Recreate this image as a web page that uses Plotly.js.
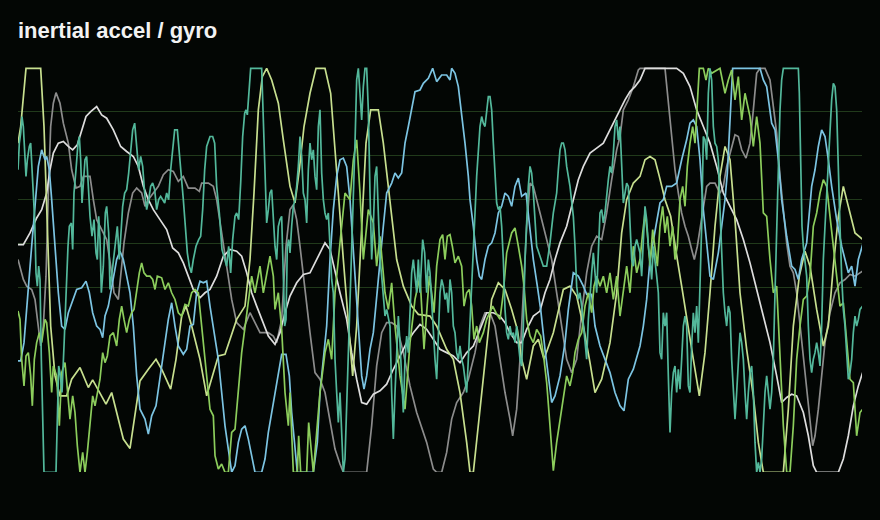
<!DOCTYPE html>
<html>
<head>
<meta charset="utf-8">
<script src="https://cdn.plot.ly/plotly-3.0.1.min.js"></script>
<style>
  html, body { margin: 0; padding: 0; background: #030604; }
</style>
</head>
<body>
<div id="chart" style="width:880px;height:520px"></div>
<script>
// samples are [t (ms), raw sensor counts]
const accelX = [[0,-221],[8,-221],[18,-166],[31,-16],[41,124],[51,244],[61,364],[71,414],[81,384],[86,394],[94,354],[101,264],[111,124],[121,-16],[131,-116],[141,-126],[151,-76],[164,-36],[176,-6],[191,-1],[204,19],[214,-16],[224,-76],[236,-116],[246,-126],[254,-151],[261,-86],[271,-56],[286,34],[296,84],[306,109],[316,84],[326,34],[336,-16],[346,-116],[356,-266],[366,-366],[381,-396],[391,-441],[401,-386],[414,-356],[426,-266],[441,-166],[451,-96],[461,-46],[471,-116],[481,-176],[496,-201],[506,-186],[516,-116],[526,-111],[536,-16],[546,19],[556,14],[566,19],[576,-56],[591,-146],[601,-216],[611,-316],[621,-416],[631,-486],[641,-556],[651,-536],[661,-466],[671,-426],[681,-416],[691,-456],[701,-506],[711,-556],[731,-556],[741,-516],[751,-436],[761,-376],[771,-316],[781,-266],[791,-201],[804,-201],[814,-266],[821,-376],[831,-486],[838,-556],[886,-556],[898,-466],[906,-316],[916,-216],[926,-116],[936,84],[946,234],[956,334],[966,384],[976,389],[986,364],[996,264],[1004,134],[1011,34],[1021,-116],[1031,-266],[1038,-306],[1046,-266],[1056,-186],[1066,-136],[1081,34],[1096,184],[1106,284],[1121,314],[1131,344],[1141,329],[1151,344],[1161,434],[1171,484],[1181,534],[1191,589],[1206,594],[1216,614],[1231,629],[1244,659],[1256,619],[1271,639],[1286,639],[1296,624],[1301,659],[1311,644],[1321,604],[1331,524],[1341,434],[1351,334],[1356,264],[1366,184],[1376,84],[1384,34],[1391,24],[1401,84],[1411,124],[1421,134],[1431,164],[1441,224],[1451,244],[1461,284],[1471,274],[1481,244],[1491,304],[1501,329],[1511,274],[1524,284],[1536,184],[1546,84],[1558,4],[1568,-66],[1581,-186],[1591,-266],[1601,-346],[1611,-326],[1626,-266],[1641,-166],[1651,-66],[1666,44],[1681,34],[1696,4],[1706,-21],[1721,-21],[1731,-116],[1746,-176],[1761,-216],[1776,-256],[1791,-316],[1806,-356],[1818,-371],[1831,-276],[1846,-246],[1866,-176],[1876,-116],[1886,-36],[1896,84],[1911,174],[1926,254],[1936,264],[1946,304],[1961,304],[1976,314],[1991,384],[2006,444],[2016,494],[2026,504],[2036,484],[2046,384],[2056,234],[2066,124],[2076,34],[2086,24],[2101,104],[2111,184],[2121,264],[2128,344],[2136,484],[2144,659],[2226,659],[2236,624],[2246,604],[2261,494],[2271,474],[2281,384],[2291,264],[2306,154],[2321,64],[2331,54],[2341,24],[2351,84],[2366,134],[2381,304],[2391,354],[2401,424],[2411,474],[2421,454],[2431,384],[2441,304],[2456,204],[2471,124],[2481,84],[2491,44],[2501,64],[2511,4],[2521,84],[2534,129]];

const accelY = [[0,354],[4,434],[8,464],[12,514],[16,484],[20,404],[24,334],[28,384],[34,424],[38,434],[42,354],[46,284],[50,204],[54,44],[58,4],[62,64],[66,24],[70,-216],[74,-416],[78,-556],[114,-556],[118,-416],[122,-236],[126,-256],[132,-316],[138,-176],[144,-16],[150,124],[154,184],[160,194],[164,114],[168,284],[174,354],[180,434],[184,454],[188,384],[192,254],[196,304],[201,384],[206,394],[210,324],[216,214],[222,154],[228,204],[234,104],[238,84],[242,214],[246,144],[250,-16],[256,64],[262,224],[266,244],[272,164],[276,-6],[282,44],[288,104],[294,144],[298,184],[304,84],[308,144],[314,244],[320,284],[326,294],[332,344],[338,414],[344,474],[350,494],[356,424],[362,354],[368,394],[374,364],[380,284],[386,234],[392,264],[398,304],[404,314],[410,294],[416,234],[422,264],[428,274],[434,264],[440,254],[446,284],[452,264],[458,354],[464,424],[470,474],[478,474],[484,394],[490,334],[496,264],[502,184],[508,104],[514,64],[520,44],[526,84],[534,124],[542,144],[548,154],[554,234],[560,354],[566,424],[572,444],[576,454],[584,454],[590,434],[596,304],[604,224],[612,114],[620,84],[626,64],[632,124],[638,44],[644,144],[651,214],[656,224],[662,204],[668,314],[674,454],[680,524],[684,534],[688,519],[694,624],[698,659],[731,659],[736,484],[741,334],[746,194],[751,234],[756,284],[761,294],[766,204],[771,124],[776,84],[781,184],[786,204],[791,214],[796,34],[800,-116],[804,-96],[808,124],[812,144],[816,104],[821,184],[826,244],[831,264],[836,304],[841,364],[846,454],[851,394],[856,284],[861,264],[866,194],[871,354],[876,434],[881,384],[886,414],[891,334],[896,294],[901,484],[906,534],[911,344],[916,264],[921,224],[926,204],[931,224],[936,124],[941,24],[946,-16],[951,-216],[956,-316],[961,-406],[966,-316],[971,-416],[976,-556],[981,-516],[986,-366],[991,-216],[996,-16],[1001,134],[1006,264],[1011,434],[1016,624],[1021,659],[1026,584],[1031,504],[1036,604],[1041,659],[1046,659],[1051,534],[1056,284],[1061,84],[1066,184],[1071,334],[1076,364],[1081,234],[1086,84],[1091,34],[1096,-16],[1101,-86],[1106,-66],[1111,-96],[1116,-116],[1121,-316],[1126,-456],[1131,-316],[1136,-216],[1141,-86],[1146,-166],[1151,-256],[1156,-376],[1161,-216],[1166,-146],[1171,-196],[1176,-86],[1181,44],[1186,84],[1191,24],[1196,-16],[1201,84],[1206,-16],[1214,144],[1220,104],[1226,-16],[1231,84],[1236,44],[1241,-56],[1246,-156],[1251,-216],[1256,-276],[1261,-166],[1266,-16],[1271,24],[1276,4],[1281,-36],[1286,-16],[1291,-76],[1296,24],[1301,-16],[1306,-116],[1311,-136],[1316,-196],[1321,-216],[1326,-176],[1331,-216],[1336,-236],[1341,-276],[1346,-316],[1351,-216],[1356,-116],[1361,24],[1366,124],[1371,224],[1376,334],[1381,404],[1386,484],[1391,514],[1396,494],[1401,484],[1406,534],[1411,574],[1416,574],[1421,534],[1426,434],[1431,334],[1436,254],[1441,234],[1446,244],[1451,184],[1456,84],[1461,-66],[1466,-136],[1471,-156],[1476,-116],[1481,-146],[1486,-136],[1491,-166],[1496,-116],[1501,-166],[1506,-216],[1511,-236],[1516,-116],[1521,84],[1526,214],[1531,304],[1536,364],[1541,344],[1546,284],[1551,184],[1556,124],[1566,94],[1576,64],[1586,64],[1596,134],[1606,224],[1616,284],[1621,354],[1626,414],[1631,434],[1636,434],[1641,414],[1646,364],[1656,304],[1666,214],[1671,124],[1676,4],[1681,-36],[1686,-16],[1691,-56],[1696,-116],[1701,-176],[1706,-216],[1711,-96],[1716,-16],[1721,44],[1726,104],[1731,44],[1736,-16],[1741,104],[1746,224],[1751,234],[1756,194],[1761,224],[1766,284],[1771,324],[1776,364],[1781,344],[1786,404],[1791,484],[1796,504],[1801,444],[1806,484],[1811,374],[1816,254],[1821,284],[1826,314],[1831,304],[1836,204],[1841,84],[1846,64],[1851,124],[1856,144],[1861,124],[1866,104],[1871,34],[1876,124],[1881,244],[1886,204],[1891,124],[1896,84],[1901,24],[1906,124],[1911,84],[1916,34],[1921,-16],[1926,-196],[1931,-216],[1936,-76],[1941,-116],[1946,-76],[1951,-266],[1956,-436],[1961,-316],[1966,-256],[1971,-236],[1976,-316],[1981,-246],[1986,-306],[1991,-216],[1996,-116],[2001,-86],[2006,-116],[2011,-296],[2016,-316],[2021,-176],[2026,-76],[2031,-136],[2036,-56],[2041,-166],[2046,-16],[2051,184],[2056,454],[2061,444],[2066,384],[2071,584],[2076,659],[2081,624],[2086,484],[2091,434],[2096,424],[2101,384],[2106,234],[2111,84],[2116,-16],[2121,-76],[2126,-116],[2131,-56],[2136,-76],[2141,-216],[2146,-316],[2151,-396],[2156,-316],[2161,-216],[2166,-136],[2171,-166],[2176,-216],[2181,-316],[2186,-396],[2191,-316],[2196,-256],[2201,-236],[2206,-316],[2211,-466],[2216,-556],[2221,-526],[2226,-556],[2231,-516],[2236,-416],[2241,-316],[2246,-266],[2251,-316],[2256,-366],[2261,-316],[2266,-216],[2271,-16],[2276,184],[2281,384],[2286,534],[2291,624],[2296,659],[2341,659],[2344,584],[2348,384],[2352,184],[2356,124],[2361,84],[2366,34],[2371,-116],[2376,-216],[2381,-256],[2386,-216],[2391,-196],[2396,-166],[2401,-196],[2406,-236],[2411,-116],[2416,84],[2421,184],[2426,284],[2431,384],[2436,484],[2441,564],[2446,614],[2451,604],[2456,534],[2461,334],[2466,184],[2471,34],[2476,-66],[2481,-116],[2486,-216],[2491,-276],[2496,-256],[2501,-216],[2506,-136],[2511,-86],[2516,-116],[2521,-96],[2526,-66],[2534,-56]];

const accelZ = [[0,-71],[6,-96],[11,-216],[18,-296],[24,-206],[31,-196],[38,-266],[43,-356],[49,-216],[56,-166],[64,-136],[71,-166],[81,-96],[86,-106],[94,-196],[101,-316],[106,-236],[116,-266],[124,-416],[131,-256],[141,-226],[148,-306],[156,-396],[164,-326],[171,-376],[178,-476],[186,-556],[194,-496],[201,-556],[208,-496],[216,-416],[224,-326],[231,-356],[238,-316],[246,-276],[254,-196],[261,-226],[268,-206],[276,-146],[286,-136],[296,-176],[304,-96],[311,-56],[318,-96],[326,-136],[334,-96],[341,-76],[348,-66],[356,-6],[364,44],[371,74],[378,44],[386,34],[396,34],[404,24],[411,-6],[418,34],[431,29],[441,-6],[451,14],[461,-16],[471,-36],[481,-76],[491,-86],[501,-51],[511,-56],[521,-16],[531,-6],[541,-16],[551,-116],[561,-216],[571,-296],[576,-366],[586,-386],[591,-506],[601,-546],[611,-531],[621,-556],[631,-556],[641,-436],[651,-426],[671,-196],[686,-86],[701,34],[711,-16],[726,64],[736,-16],[756,94],[766,34],[771,-66],[781,-16],[791,-126],[801,-316],[811,-416],[816,-316],[826,-556],[838,-556],[842,-446],[848,-556],[866,-556],[872,-406],[886,-556],[896,-436],[906,-316],[921,-196],[931,-156],[941,-216],[951,-16],[971,184],[981,284],[996,264],[1006,384],[1016,444],[1026,284],[1036,84],[1051,234],[1066,194],[1076,64],[1086,154],[1101,-16],[1111,-66],[1121,14],[1131,-116],[1146,-266],[1161,-366],[1176,-166],[1191,-36],[1206,34],[1218,-186],[1226,-86],[1234,34],[1241,-16],[1248,-76],[1256,64],[1266,144],[1274,159],[1281,84],[1288,154],[1296,159],[1303,124],[1311,74],[1321,94],[1331,64],[1338,-56],[1346,-16],[1354,-6],[1361,-56],[1368,-156],[1376,-116],[1384,-166],[1396,-136],[1406,-96],[1416,-76],[1424,-56],[1434,-76],[1446,-96],[1456,-16],[1466,104],[1481,164],[1491,179],[1501,124],[1511,64],[1518,4],[1526,-96],[1536,-146],[1546,-166],[1556,-126],[1568,-146],[1578,-216],[1586,-286],[1596,-416],[1606,-551],[1616,-466],[1626,-396],[1638,-316],[1646,-266],[1656,-296],[1664,-256],[1671,-196],[1681,-156],[1691,-136],[1701,-56],[1711,-16],[1721,-76],[1728,4],[1736,34],[1746,4],[1756,34],[1766,-16],[1776,44],[1786,-36],[1796,34],[1806,-86],[1816,-16],[1826,64],[1836,-16],[1846,124],[1856,44],[1866,84],[1874,164],[1881,224],[1888,164],[1896,64],[1904,174],[1911,124],[1918,64],[1926,184],[1934,244],[1941,164],[1948,214],[1956,124],[1964,184],[1971,84],[1978,124],[1986,264],[1994,304],[2001,244],[2008,364],[2016,434],[2024,484],[2031,434],[2038,554],[2044,659],[2056,659],[2064,624],[2071,659],[2081,644],[2106,659],[2121,584],[2131,624],[2141,654],[2151,564],[2161,634],[2171,504],[2181,584],[2196,514],[2206,424],[2216,514],[2226,434],[2236,224],[2246,214],[2256,84],[2266,-16],[2276,4],[2286,-216],[2296,-416],[2306,-556],[2316,-556],[2326,-416],[2336,-216],[2346,-116],[2356,-36],[2366,-26],[2376,34],[2386,184],[2396,224],[2406,284],[2416,324],[2426,304],[2436,214],[2446,124],[2456,44],[2466,-56],[2476,-46],[2486,-156],[2496,-276],[2506,-286],[2516,-446],[2526,-376],[2534,-366]];

const gyroX = [[0,434],[8,484],[24,659],[68,659],[78,484],[88,184],[98,-116],[111,-266],[126,-326],[146,-326],[161,-276],[186,-241],[211,-301],[224,-278],[246,-316],[264,-351],[281,-316],[296,-376],[316,-456],[336,-484],[351,-376],[366,-281],[391,-246],[414,-216],[431,-246],[458,-306],[474,-216],[491,-86],[504,-56],[521,-116],[546,-216],[566,-326],[576,-291],[601,-206],[621,-201],[656,-96],[681,-56],[696,84],[708,284],[721,534],[733,634],[746,659],[761,624],[781,554],[796,444],[816,304],[831,254],[844,354],[858,484],[876,584],[894,659],[921,659],[938,584],[948,464],[961,284],[976,84],[991,-116],[1004,-266],[1016,-116],[1031,184],[1044,434],[1058,534],[1081,534],[1096,434],[1111,304],[1124,184],[1136,84],[1156,4],[1181,-56],[1201,-81],[1236,-86],[1256,-116],[1286,-186],[1306,-216],[1326,-316],[1346,-466],[1356,-556],[1366,-556],[1381,-416],[1401,-216],[1421,-36],[1441,14],[1461,-6],[1481,-66],[1498,-126],[1511,-216],[1526,-276],[1546,-176],[1561,-156],[1578,-216],[1606,-136],[1636,-6],[1656,4],[1676,-26],[1696,-116],[1716,-226],[1731,-316],[1751,-276],[1776,-166],[1796,-16],[1811,164],[1826,264],[1846,314],[1866,334],[1881,384],[1896,394],[1911,384],[1924,334],[1941,264],[1958,214],[1968,144],[1978,84],[1991,4],[2006,-96],[2026,-216],[2044,-326],[2061,-196],[2076,-16],[2091,184],[2106,334],[2121,424],[2136,384],[2151,204],[2166,-16],[2186,-186],[2206,-326],[2221,-466],[2236,-556],[2296,-556],[2311,-366],[2326,-116],[2344,34],[2361,109],[2376,64],[2396,-66],[2416,-176],[2431,-116],[2446,64],[2461,214],[2476,304],[2491,244],[2511,164],[2534,144]];

const gyroY = [[0,84],[8,54],[16,24],[26,4],[41,-6],[51,-36],[61,-116],[68,-176],[76,-116],[84,34],[91,284],[98,484],[106,554],[114,586],[126,554],[136,494],[151,434],[161,354],[174,299],[186,304],[196,334],[216,334],[226,264],[236,204],[251,174],[266,144],[278,64],[288,-16],[301,-36],[308,34],[318,134],[331,224],[344,284],[356,299],[371,284],[381,244],[391,264],[406,284],[421,304],[436,339],[451,354],[466,349],[481,319],[496,334],[511,299],[531,299],[544,289],[551,314],[571,314],[586,304],[596,264],[611,164],[626,64],[641,-36],[656,-106],[676,-126],[696,-76],[711,-106],[726,-136],[751,-136],[766,-146],[776,-166],[791,-96],[804,124],[816,234],[826,249],[836,204],[846,124],[861,-16],[876,-136],[891,-256],[906,-276],[921,-316],[936,-406],[951,-486],[966,-531],[976,-556],[1046,-556],[1061,-416],[1076,-236],[1091,-136],[1106,-106],[1121,-106],[1136,-116],[1156,-196],[1176,-296],[1196,-376],[1226,-466],[1246,-546],[1256,-556],[1271,-556],[1286,-496],[1301,-396],[1316,-346],[1336,-316],[1351,-276],[1371,-196],[1386,-116],[1401,-76],[1416,-76],[1431,-116],[1446,-216],[1461,-316],[1476,-396],[1484,-446],[1496,-366],[1506,-216],[1516,-16],[1526,184],[1536,314],[1546,304],[1561,244],[1576,184],[1591,124],[1601,84],[1616,-16],[1631,-116],[1646,-216],[1661,-256],[1676,-216],[1691,-76],[1706,44],[1721,124],[1736,154],[1751,144],[1766,224],[1781,324],[1796,414],[1806,454],[1816,534],[1831,564],[1846,604],[1861,654],[1866,659],[1941,659],[1951,554],[1961,454],[1971,354],[1981,284],[1991,224],[2001,184],[2011,154],[2021,114],[2029,84],[2038,124],[2046,174],[2056,244],[2066,304],[2076,314],[2091,314],[2106,284],[2116,304],[2126,364],[2141,424],[2151,459],[2161,454],[2171,414],[2184,389],[2196,434],[2206,534],[2216,644],[2226,659],[2241,659],[2256,624],[2266,534],[2276,464],[2286,334],[2296,234],[2306,134],[2316,64],[2326,44],[2336,-16],[2346,-116],[2356,-216],[2366,-316],[2376,-396],[2384,-476],[2391,-446],[2401,-366],[2411,-266],[2421,-166],[2436,-76],[2451,-16],[2466,14],[2481,24],[2496,39],[2511,34],[2534,49]];

const gyroZ = [[0,129],[16,129],[36,164],[56,209],[71,234],[86,284],[96,354],[106,404],[121,434],[136,439],[151,424],[164,414],[178,429],[191,474],[204,514],[218,529],[236,544],[251,519],[266,509],[286,474],[308,424],[326,409],[346,394],[361,364],[376,304],[391,264],[406,234],[426,204],[446,174],[464,119],[481,104],[496,74],[511,34],[526,-6],[546,-31],[561,-16],[576,-6],[596,34],[616,94],[636,114],[656,109],[671,94],[686,44],[701,-16],[716,-56],[731,-96],[751,-146],[771,-171],[786,-136],[801,-76],[816,-26],[836,14],[856,39],[876,44],[896,84],[921,134],[936,114],[951,44],[966,-16],[986,-96],[1001,-196],[1016,-276],[1031,-346],[1046,-351],[1066,-321],[1086,-311],[1106,-291],[1126,-246],[1146,-206],[1166,-166],[1186,-136],[1206,-111],[1226,-126],[1246,-156],[1266,-186],[1286,-196],[1306,-206],[1326,-226],[1346,-196],[1366,-176],[1386,-126],[1406,-76],[1426,-76],[1446,-86],[1461,-106],[1476,-136],[1496,-166],[1511,-166],[1526,-126],[1546,-86],[1566,-71],[1581,-16],[1596,24],[1611,84],[1626,134],[1646,184],[1666,264],[1681,324],[1696,364],[1716,404],[1736,419],[1756,434],[1771,464],[1786,494],[1806,534],[1821,564],[1836,589],[1851,604],[1866,624],[1881,659],[1976,659],[1996,644],[2016,604],[2036,534],[2056,484],[2076,434],[2096,364],[2116,284],[2136,244],[2156,204],[2176,144],[2196,74],[2216,-6],[2236,-86],[2256,-166],[2276,-266],[2291,-346],[2306,-331],[2321,-321],[2336,-326],[2356,-376],[2371,-446],[2386,-536],[2396,-556],[2461,-556],[2476,-516],[2491,-446],[2506,-356],[2521,-296],[2534,-256]];

const gridVals = [0, 132, 264, 396, 528, 660];

const bg = '#030604';

function lineTrace(samples, name, color) {
  return {
    x: samples.map(p => p[0]),
    y: samples.map(p => p[1]),
    type: 'scatter',
    mode: 'lines',
    name: name,
    line: { color: color, width: 1.7 },
    hoverinfo: 'skip'
  };
}

const traces = [
  lineTrace(gyroY, 'gyro y', '#8c8c8c'),
  lineTrace(gyroZ, 'gyro z', '#dddddd'),
  lineTrace(gyroX, 'gyro x', '#c7df8f'),
  lineTrace(accelX, 'accel x', '#7cc4e2'),
  lineTrace(accelZ, 'accel z', '#8ccd5c'),
  lineTrace(accelY, 'accel y', '#53b89b')
];

const layout = {
  width: 880,
  height: 520,
  margin: { l: 18, r: 18, t: 67, b: 48 },
  paper_bgcolor: bg,
  plot_bgcolor: bg,
  showlegend: false,
  title: {
    text: 'inertial accel / gyro',
    xref: 'container',
    x: 18 / 880,
    xanchor: 'left',
    yref: 'container',
    y: 0.941,
    yanchor: 'middle',
    font: { family: 'Liberation Sans, Arial, sans-serif', size: 22, color: '#f2f2f2', weight: 'bold' }
  },
  xaxis: {
    range: [0, 2532],
    showgrid: false,
    zeroline: false,
    showline: false,
    showticklabels: false,
    ticks: ''
  },
  yaxis: {
    range: [-555, 663],
    tickvals: gridVals,
    gridcolor: '#213a1b',
    gridwidth: 1,
    zeroline: false,
    showline: false,
    showticklabels: false,
    ticks: ''
  }
};

Plotly.newPlot('chart', traces, layout, { staticPlot: true, displayModeBar: false });
</script>
</body>
</html>
